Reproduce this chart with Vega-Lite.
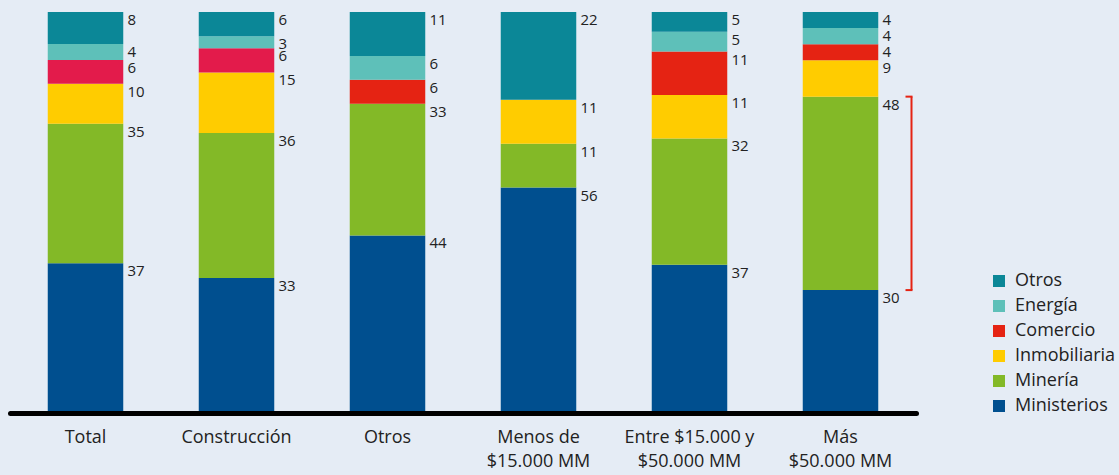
{
  "$schema": "https://vega.github.io/schema/vega-lite/v6.json",
  "width": 906,
  "height": 399,
  "autosize": {"type": "none"},
  "padding": {"left": 10, "top": 12, "right": 203, "bottom": 64},
  "background": "#e5ecf5",
  "config": {"view": {"stroke": null}, "font": "Open Sans"},
  "data": {
    "values": [
      {"cat": "Total", "sector": "Ministerios", "orden": 1, "valor": 37},
      {"cat": "Total", "sector": "Minería", "orden": 2, "valor": 35},
      {"cat": "Total", "sector": "Inmobiliaria", "orden": 3, "valor": 10},
      {"cat": "Total", "sector": "Comercio", "orden": 4, "valor": 6},
      {"cat": "Total", "sector": "Energía", "orden": 5, "valor": 4},
      {"cat": "Total", "sector": "Otros", "orden": 6, "valor": 8},
      {"cat": "Construcción", "sector": "Ministerios", "orden": 1, "valor": 33},
      {"cat": "Construcción", "sector": "Minería", "orden": 2, "valor": 36},
      {"cat": "Construcción", "sector": "Inmobiliaria", "orden": 3, "valor": 15},
      {"cat": "Construcción", "sector": "Comercio", "orden": 4, "valor": 6},
      {"cat": "Construcción", "sector": "Energía", "orden": 5, "valor": 3},
      {"cat": "Construcción", "sector": "Otros", "orden": 6, "valor": 6},
      {"cat": "Otros", "sector": "Ministerios", "orden": 1, "valor": 44},
      {"cat": "Otros", "sector": "Minería", "orden": 2, "valor": 33},
      {"cat": "Otros", "sector": "Comercio", "orden": 4, "valor": 6},
      {"cat": "Otros", "sector": "Energía", "orden": 5, "valor": 6},
      {"cat": "Otros", "sector": "Otros", "orden": 6, "valor": 11},
      {"cat": "Menos de $15.000 MM", "sector": "Ministerios", "orden": 1, "valor": 56},
      {"cat": "Menos de $15.000 MM", "sector": "Minería", "orden": 2, "valor": 11},
      {"cat": "Menos de $15.000 MM", "sector": "Inmobiliaria", "orden": 3, "valor": 11},
      {"cat": "Menos de $15.000 MM", "sector": "Otros", "orden": 6, "valor": 22},
      {"cat": "Entre $15.000 y $50.000 MM", "sector": "Ministerios", "orden": 1, "valor": 37},
      {"cat": "Entre $15.000 y $50.000 MM", "sector": "Minería", "orden": 2, "valor": 32},
      {"cat": "Entre $15.000 y $50.000 MM", "sector": "Inmobiliaria", "orden": 3, "valor": 11},
      {"cat": "Entre $15.000 y $50.000 MM", "sector": "Comercio", "orden": 4, "valor": 11},
      {"cat": "Entre $15.000 y $50.000 MM", "sector": "Energía", "orden": 5, "valor": 5},
      {"cat": "Entre $15.000 y $50.000 MM", "sector": "Otros", "orden": 6, "valor": 5},
      {"cat": "Más $50.000 MM", "sector": "Ministerios", "orden": 1, "valor": 30},
      {"cat": "Más $50.000 MM", "sector": "Minería", "orden": 2, "valor": 48},
      {"cat": "Más $50.000 MM", "sector": "Inmobiliaria", "orden": 3, "valor": 9},
      {"cat": "Más $50.000 MM", "sector": "Comercio", "orden": 4, "valor": 4},
      {"cat": "Más $50.000 MM", "sector": "Energía", "orden": 5, "valor": 4},
      {"cat": "Más $50.000 MM", "sector": "Otros", "orden": 6, "valor": 4}
    ]
  },
  "transform": [
    {"stack": "valor", "groupby": ["cat"], "sort": [{"field": "orden", "order": "ascending"}], "as": ["y0", "y1"], "offset": "normalize"}
  ],
  "encoding": {
    "x": {
      "field": "cat",
      "type": "nominal",
      "sort": null,
      "scale": {"paddingInner": 0.5, "paddingOuter": 0.25},
      "axis": {
        "title": null,
        "labelAngle": 0,
        "ticks": false,
        "domainColor": "#000000",
        "domainWidth": 5,
        "domainCap": "round",
        "offset": 2,
        "labelFontSize": 18,
        "labelColor": "#222222",
        "labelPadding": 15,
        "labelLineHeight": 24,
        "labelExpr": "lastindexof(datum.value, '$') > 0 ? [substring(datum.value, 0, lastindexof(datum.value, '$') - 1), substring(datum.value, lastindexof(datum.value, '$'))] : datum.value"
      }
    }
  },
  "layer": [
    {
      "mark": {"type": "bar"},
      "encoding": {
        "y": {"field": "y0", "type": "quantitative", "scale": {"domain": [0, 1], "nice": false}, "axis": null},
        "y2": {"field": "y1"},
        "color": {
          "field": "sector",
          "type": "nominal",
          "condition": {"test": "datum.sector === 'Comercio' && (datum.cat === 'Total' || datum.cat === 'Construcción')", "value": "#e31b4b"},
          "scale": {
            "domain": ["Otros", "Energía", "Comercio", "Inmobiliaria", "Minería", "Ministerios"],
            "range": ["#0b8797", "#5ec0b9", "#e52313", "#ffcc00", "#83b927", "#004f8f"]
          },
          "legend": {
            "orient": "none",
            "legendX": 980,
            "legendY": 260,
            "title": null,
            "padding": 0,
            "symbolType": "square",
            "symbolSize": 144,
            "symbolStrokeWidth": 0,
            "labelFontSize": 18,
            "labelColor": "#222222",
            "labelOffset": 7,
            "rowPadding": 7
          }
        }
      }
    },
    {
      "mark": {"type": "text", "align": "left", "baseline": "top", "dx": 42, "dy": 1, "fontSize": 15, "color": "#222222"},
      "encoding": {
        "y": {"field": "y1", "type": "quantitative"},
        "text": {"field": "valor", "type": "quantitative"}
      }
    },
    {
      "transform": [{"filter": "datum.cat === 'Más $50.000 MM' && datum.sector === 'Minería'"}],
      "mark": {"type": "rule", "color": "#e52313", "strokeWidth": 2, "xOffset": 71},
      "encoding": {
        "y": {"field": "y0", "type": "quantitative"},
        "y2": {"field": "y1"}
      }
    },
    {
      "transform": [{"filter": "datum.cat === 'Más $50.000 MM' && datum.sector === 'Minería'"}],
      "mark": {"type": "rule", "color": "#e52313", "strokeWidth": 2, "xOffset": 65, "x2Offset": 72},
      "encoding": {
        "x2": {"field": "cat"},
        "y": {"field": "y1", "type": "quantitative"}
      }
    },
    {
      "transform": [{"filter": "datum.cat === 'Más $50.000 MM' && datum.sector === 'Minería'"}],
      "mark": {"type": "rule", "color": "#e52313", "strokeWidth": 2, "xOffset": 65, "x2Offset": 72},
      "encoding": {
        "x2": {"field": "cat"},
        "y": {"field": "y0", "type": "quantitative"}
      }
    }
  ]
}
